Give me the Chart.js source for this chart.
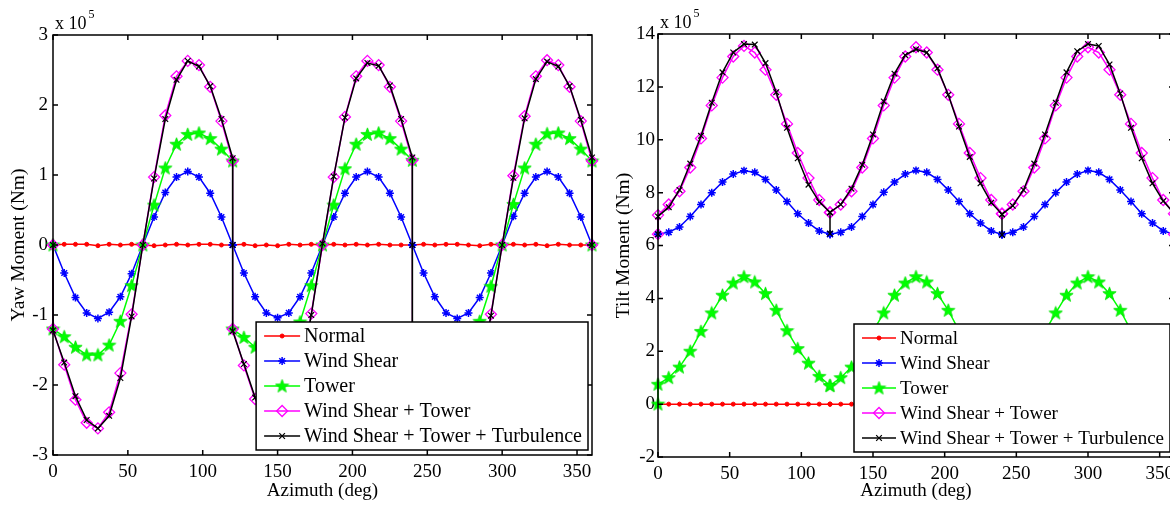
<!DOCTYPE html>
<html>
<head>
<meta charset="utf-8">
<script src="https://cdn.jsdelivr.net/npm/chart.js@4.4.1/dist/chart.umd.min.js"></script>
<style>
  html, body { margin: 0; padding: 0; background: #fff; overflow: hidden; }
  body { width: 1170px; height: 506px; position: relative; }
  .plot { position: absolute; top: 0; width: 600px; height: 506px; }
</style>
</head>
<body>
<div class="plot" style="left:0"><canvas id="yawChart"></canvas></div>
<div class="plot" style="left:600px"><canvas id="tiltChart"></canvas></div>
<script>
// azimuth in deg; 0/120/240/360 repeated for the jumps at blade passage
var azimuth = [0, 0, 7.5, 15, 22.5, 30, 37.5, 45, 52.5, 60, 67.5, 75, 82.5, 90, 97.5, 105, 112.5,
  120, 120, 120, 127.5, 135, 142.5, 150, 157.5, 165, 172.5, 180, 187.5, 195, 202.5, 210, 217.5, 225, 232.5,
  240, 240, 240, 247.5, 255, 262.5, 270, 277.5, 285, 292.5, 300, 307.5, 315, 322.5, 330, 337.5, 345, 352.5,
  360, 360];
var xTicks = [0, 50, 100, 150, 200, 250, 300, 350];
var yawTicks = [-3, -2, -1, 0, 1, 2, 3];
var tiltTicks = [-2, 0, 2, 4, 6, 8, 10, 12, 14];
var seriesNames = ["Normal", "Wind Shear", "Tower", "Wind Shear + Tower", "Wind Shear + Tower + Turbulence"];

// yaw moment (x 10^5 Nm)
var yawNormal = [0, 0, 0.01, 0.01, 0.01, -0.01, 0.01, 0, 0.01, 0, -0.01, 0, 0.01, 0, 0.01, 0.01, 0,
  0, 0, 0, 0.01, -0.01, 0, -0.01, 0.01, 0, 0.01, 0, 0.01, 0, 0.01, 0, 0.01, 0, 0,
  0, 0, 0, 0.01, 0, 0.01, 0.01, 0, -0.01, 0.01, 0, 0.01, 0, 0.01, -0.01, 0.01, 0, 0,
  0, 0];
var yawShear = [0, 0, -0.40, -0.75, -0.97, -1.05, -0.96, -0.74, -0.41, 0, 0.40, 0.75, 0.97, 1.05, 0.97, 0.74, 0.40,
  0, 0, 0, -0.40, -0.74, -0.97, -1.04, -0.97, -0.74, -0.40, 0, 0.40, 0.74, 0.97, 1.05, 0.97, 0.74, 0.40,
  0, 0, 0, -0.40, -0.74, -0.97, -1.05, -0.97, -0.75, -0.40, 0, 0.41, 0.74, 0.97, 1.05, 0.97, 0.74, 0.40,
  0, 0];
var yawTower = [0, -1.20, -1.31, -1.46, -1.57, -1.57, -1.43, -1.09, -0.58, 0, 0.57, 1.10, 1.44, 1.58, 1.60, 1.52, 1.37,
  1.20, null, -1.20, -1.32, -1.46, -1.57, -1.58, -1.43, -1.10, -0.58, 0, 0.57, 1.09, 1.44, 1.58, 1.60, 1.52, 1.37,
  1.21, null, -1.20, -1.31, -1.46, -1.56, -1.57, -1.43, -1.09, -0.59, 0, 0.58, 1.10, 1.44, 1.59, 1.60, 1.52, 1.37,
  1.20, 0];
var yawShearTower = [0, -1.20, -1.71, -2.21, -2.54, -2.62, -2.39, -1.83, -0.99, 0, 0.97, 1.85, 2.41, 2.63, 2.57, 2.26, 1.77,
  1.20, null, -1.20, -1.72, -2.20, -2.54, -2.62, -2.40, -1.84, -0.98, 0, 0.97, 1.83, 2.41, 2.63, 2.57, 2.26, 1.77,
  1.21, null, -1.20, -1.71, -2.20, -2.53, -2.62, -2.40, -1.84, -0.99, 0, 0.99, 1.84, 2.41, 2.64, 2.57, 2.26, 1.77,
  1.20, 0];
var yawTurb = [0, -1.22, -1.68, -2.16, -2.50, -2.62, -2.44, -1.90, -1.02, 0, 0.95, 1.80, 2.36, 2.63, 2.55, 2.27, 1.80,
  1.24, 0, -1.23, -1.70, -2.18, -2.52, -2.61, -2.42, -1.88, -1.00, 0.02, 0.98, 1.82, 2.38, 2.60, 2.56, 2.28, 1.80,
  1.25, 0, -1.22, -1.69, -2.17, -2.51, -2.63, -2.43, -1.89, -1.01, 0, 0.96, 1.81, 2.37, 2.62, 2.55, 2.27, 1.79,
  1.25, 0];

// tilt moment (x 10^5 Nm)
var tiltNormal = [0, 0, 0, 0, 0, 0, 0, 0, 0, 0, 0, 0, 0, 0, 0, 0, 0,
  0, 0, 0, 0, 0, 0, 0, 0, 0, 0, 0, 0, 0, 0, 0, 0, 0, 0,
  0, 0, 0, 0, 0, 0, 0, 0, 0, 0, 0, 0, 0, 0, 0, 0, 0, 0,
  0, 0];
var tiltShear = [6.43, 6.43, 6.50, 6.70, 7.10, 7.55, 8.00, 8.40, 8.70, 8.83, 8.77, 8.50, 8.10, 7.66, 7.20, 6.85, 6.55,
  6.43, 6.43, 6.43, 6.50, 6.70, 7.10, 7.55, 8.01, 8.40, 8.70, 8.84, 8.77, 8.50, 8.10, 7.66, 7.20, 6.85, 6.55,
  6.42, 6.42, 6.42, 6.50, 6.70, 7.10, 7.55, 8.00, 8.40, 8.70, 8.84, 8.77, 8.50, 8.10, 7.66, 7.20, 6.85, 6.55,
  6.43, 6.43];
var tiltTower = [0, 0.75, 1.00, 1.40, 2.00, 2.75, 3.45, 4.12, 4.58, 4.82, 4.62, 4.18, 3.55, 2.78, 2.10, 1.55, 1.05,
  0.70, null, 0.70, 1.00, 1.40, 2.00, 2.75, 3.45, 4.12, 4.58, 4.82, 4.62, 4.18, 3.55, 2.78, 2.10, 1.55, 1.05,
  0.70, null, 0.70, 1.00, 1.40, 2.00, 2.75, 3.45, 4.12, 4.58, 4.82, 4.62, 4.18, 3.55, 2.78, 2.10, 1.55, 1.05,
  0.70, null];
var tiltShearTower = [6.43, 7.15, 7.55, 8.05, 8.95, 10.05, 11.30, 12.35, 13.15, 13.55, 13.30, 12.65, 11.70, 10.60, 9.50, 8.55, 7.72,
  7.25, null, 7.25, 7.55, 8.05, 8.95, 10.05, 11.30, 12.35, 13.15, 13.50, 13.30, 12.65, 11.70, 10.60, 9.50, 8.55, 7.72,
  7.20, null, 7.20, 7.55, 8.05, 8.95, 10.05, 11.30, 12.35, 13.15, 13.50, 13.30, 12.65, 11.70, 10.60, 9.50, 8.55, 7.72,
  7.20, 6.43];
var tiltTurb = [6.43, 7.10, 7.45, 8.10, 9.10, 10.15, 11.40, 12.55, 13.30, 13.62, 13.60, 12.90, 11.80, 10.45, 9.30, 8.30, 7.65,
  7.25, 6.45, 7.25, 7.55, 8.15, 9.05, 10.20, 11.45, 12.50, 13.20, 13.42, 13.30, 12.70, 11.70, 10.50, 9.35, 8.35, 7.62,
  7.18, 6.40, 7.18, 7.50, 8.10, 9.10, 10.20, 11.40, 12.55, 13.35, 13.62, 13.55, 12.85, 11.75, 10.45, 9.30, 8.35, 7.68,
  7.22, 6.43];

var serif = "'Liberation Serif', 'Times New Roman', serif";
Chart.defaults.font.family = serif;
Chart.defaults.color = "#000";

// filled pentagram for the Tower series
function makeStar() {
  var c = document.createElement("canvas");
  c.width = 15; c.height = 15;
  var g = c.getContext("2d");
  g.beginPath();
  for (var k = 0; k < 10; k++) {
    var r = k % 2 ? 2.9 : 7;
    var ang = -Math.PI / 2 + k * Math.PI / 5;
    g.lineTo(7.5 + r * Math.cos(ang), 7.9 + r * Math.sin(ang));
  }
  g.closePath();
  g.fillStyle = "#00ff00";
  g.fill();
  g.strokeStyle = "#00e000";
  g.lineWidth = 0.8;
  g.stroke();
  return c;
}
var starImg = makeStar();

var styles = [
  { color: "#ff0000", shape: "circle", radius: 2, fill: "#ff0000", bw: 1 },
  { color: "#0000ff", shape: "star", radius: 4, fill: "#0000ff", bw: 1.5 },
  { color: "#00ff00", shape: starImg, radius: 7, fill: "#00ff00", bw: 1 },
  { color: "#ff00ff", shape: "rectRot", radius: 5.5, fill: "rgba(0,0,0,0)", bw: 1.3 },
  { color: "#000000", shape: "crossRot", radius: 4, fill: "#000000", bw: 1.2 }
];

function makeDatasets(series) {
  return series.map(function (vals, i) {
    var st = styles[i];
    return {
      label: seriesNames[i],
      data: azimuth.map(function (a, k) { return { x: a, y: vals[k] }; }),
      borderColor: st.color,
      borderWidth: 1.5,
      pointStyle: st.shape,
      pointRadius: st.radius,
      pointBorderColor: st.color,
      pointBackgroundColor: st.fill,
      pointBorderWidth: st.bw,
      tension: 0,
      spanGaps: true,
      clip: false,
      order: 4 - i
    };
  });
}

function drawMarker(ctx, ds, x, y) {
  var s = ds.pointStyle;
  if (typeof s !== "string") {
    ctx.drawImage(s, x - s.width / 2, y - s.height / 2);
    return;
  }
  ctx.save();
  ctx.strokeStyle = ds.pointBorderColor;
  ctx.fillStyle = ds.pointBackgroundColor;
  ctx.lineWidth = ds.pointBorderWidth;
  Chart.helpers.drawPoint(ctx, { pointStyle: s, radius: ds.pointRadius, rotation: 0, borderWidth: ds.pointBorderWidth }, x, y);
  ctx.restore();
}

// matlab style box, inward ticks, exponent label and legend
var frame = {
  id: "frame",
  afterDraw: function (chart, args, opts) {
    var ctx = chart.ctx, a = chart.chartArea;
    var xs = chart.scales.x, ys = chart.scales.y;
    ctx.save();
    ctx.strokeStyle = "#000";
    ctx.lineWidth = 1.5;
    ctx.strokeRect(a.left, a.top, a.right - a.left, a.bottom - a.top);
    ctx.beginPath();
    xs.ticks.forEach(function (t) {
      var px = xs.getPixelForValue(t.value);
      ctx.moveTo(px, a.bottom); ctx.lineTo(px, a.bottom - 5);
      ctx.moveTo(px, a.top); ctx.lineTo(px, a.top + 5);
    });
    ys.ticks.forEach(function (t) {
      var py = ys.getPixelForValue(t.value);
      ctx.moveTo(a.left, py); ctx.lineTo(a.left + 5, py);
      ctx.moveTo(a.right, py); ctx.lineTo(a.right - 5, py);
    });
    ctx.stroke();

    ctx.fillStyle = "#000";
    ctx.textAlign = "left";
    ctx.textBaseline = "alphabetic";
    ctx.font = "18px " + serif;
    ctx.fillText("x 10", a.left + 2, a.top - 6);
    var w = ctx.measureText("x 10").width;
    ctx.font = "12px " + serif;
    ctx.fillText("5", a.left + 4 + w, a.top - 17);

    var ds = chart.data.datasets;
    ctx.font = opts.legendSize + "px " + serif;
    var maxW = 0;
    ds.forEach(function (d) { maxW = Math.max(maxW, ctx.measureText(d.label).width); });
    var bw = opts.textGap + maxW + 6, bh = 128;
    var bx = a.right - 4 - bw, by = a.bottom - 5 - bh;
    ctx.fillStyle = "#fff";
    ctx.fillRect(bx, by, bw, bh);
    ctx.strokeStyle = "#000";
    ctx.lineWidth = 1.5;
    ctx.strokeRect(bx, by, bw, bh);
    ds.forEach(function (d, i) {
      var cy = by + 14 + i * 25;
      ctx.strokeStyle = d.borderColor;
      ctx.lineWidth = 1.5;
      ctx.beginPath();
      ctx.moveTo(bx + 8, cy);
      ctx.lineTo(bx + 8 + opts.sampleLen, cy);
      ctx.stroke();
      drawMarker(ctx, d, bx + 8 + opts.sampleLen / 2, cy);
      ctx.fillStyle = "#000";
      ctx.textBaseline = "middle";
      ctx.fillText(d.label, bx + opts.textGap, cy + 1);
    });
    ctx.restore();
  }
};

function xAxis(height) {
  return {
    type: "linear", min: 0, max: 360,
    grid: { display: false, drawTicks: false }, border: { display: false },
    ticks: { font: { size: 19 }, color: "#000", padding: 6, maxRotation: 0, autoSkip: false },
    afterBuildTicks: function (s) { s.ticks = xTicks.map(function (v) { return { value: v }; }); },
    afterFit: function (s) { s.height = height; },
    title: { display: true, text: "Azimuth (deg)", font: { size: 19 }, color: "#000", padding: { top: 0, bottom: 4 } }
  };
}

function yAxis(ticks, min, max, title, width, pad, titlePad) {
  return {
    type: "linear", min: min, max: max,
    grid: { display: false, drawTicks: false }, border: { display: false },
    ticks: { font: { size: 19 }, color: "#000", padding: pad, callback: function (v) { return String(v); } },
    afterBuildTicks: function (s) { s.ticks = ticks.map(function (v) { return { value: v }; }); },
    afterFit: function (s) { s.width = width; },
    title: { display: true, text: title, font: { size: 19.5 }, color: "#000", padding: { top: titlePad, bottom: 0 } }
  };
}

new Chart(document.getElementById("yawChart"), {
  type: "line",
  data: { datasets: makeDatasets([yawNormal, yawShear, yawTower, yawShearTower, yawTurb]) },
  options: {
    responsive: true,
    maintainAspectRatio: false,
    animation: false,
    layout: { padding: { left: 0, top: 35, right: 7, bottom: 0 } },
    plugins: {
      legend: { display: false },
      tooltip: { enabled: false },
      frame: { legendSize: 20, sampleLen: 36, textGap: 48 }
    },
    scales: {
      x: xAxis(51),
      y: yAxis(yawTicks, -3, 3, "Yaw Moment (Nm)", 53, 5, 7)
    }
  },
  plugins: [frame]
});

new Chart(document.getElementById("tiltChart"), {
  type: "line",
  data: { datasets: makeDatasets([tiltNormal, tiltShear, tiltTower, tiltShearTower, tiltTurb]) },
  options: {
    responsive: true,
    maintainAspectRatio: false,
    animation: false,
    layout: { padding: { left: 0, top: 34, right: 26, bottom: 0 } },
    plugins: {
      legend: { display: false },
      tooltip: { enabled: false },
      frame: { legendSize: 19, sampleLen: 34, textGap: 46 }
    },
    scales: {
      x: xAxis(49),
      y: yAxis(tiltTicks, -2, 14, "Tilt Moment (Nm)", 58, 3, 12)
    }
  },
  plugins: [frame]
});
</script>
</body>
</html>
